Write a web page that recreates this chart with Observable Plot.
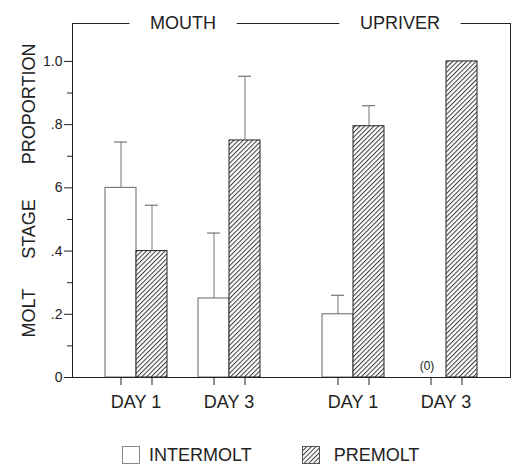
<!DOCTYPE html>
<html>
<head>
<meta charset="utf-8">
<script src="https://cdn.jsdelivr.net/npm/d3@7"></script>
<script src="https://cdn.jsdelivr.net/npm/@observablehq/plot@0.6"></script>
<style>
  html, body { margin: 0; padding: 0; background: white; }
  body { width: 514px; height: 466px; position: relative; overflow: hidden;
         font-family: "Liberation Sans", Arial, sans-serif; color: #222; }
  #chart svg { display: block; }
  #legend { position: absolute; top: 444px; left: 0; height: 22px; display: flex; align-items: center;
            padding-left: 122px; font-size: 18px; color: #222; }
  #legend .item { display: flex; align-items: center; }
  #legend svg { display: block; }
</style>
</head>
<body>
<div id="chart"></div>
<div id="legend"></div>
<script>
// ---- data ----
const sites = ["MOUTH", "UPRIVER"];
const days = ["DAY 1", "DAY 3"];
const stages = ["INTERMOLT", "PREMOLT"];
// order: MOUTH DAY 1, MOUTH DAY 3, UPRIVER DAY 1, UPRIVER DAY 3
const intermoltValues = [0.60, 0.25, 0.20, 0.00];
const intermoltUpper  = [0.745, 0.457, 0.26, null];
const premoltValues   = [0.40, 0.75, 0.795, 1.00];
const premoltUpper    = [0.545, 0.953, 0.86, null];
const yTicks = [0, 0.2, 0.4, 0.6, 0.8, 1.0];
const yTickLabels = ["0", ".2", ".4", "6", ".8", "1.0"];
const yMinorTicks = [0.1, 0.3, 0.5, 0.7, 0.9];
const yTitle = ["MOLT", "STAGE", "PROPORTION"];

// ---- build table ----
const key = (s, d, st) => `${s} ${d} ${st}`;
const rows = [];
sites.forEach((s, si) => days.forEach((d, di) => {
  const g = si * 2 + di;
  rows.push({site: s, day: d, stage: stages[0], key: key(s, d, stages[0]), value: intermoltValues[g], upper: intermoltUpper[g]});
  rows.push({site: s, day: d, stage: stages[1], key: key(s, d, stages[1]), value: premoltValues[g], upper: premoltUpper[g]});
}));
const barKeys = rows.map(r => r.key);
// band domain: bars with spacer bands (site name sits on the spacer between its two days)
const xDomain = sites.flatMap((s, si) => [
  ...(si > 0 ? ["\u2009", "\u200a"] : []),
  key(s, days[0], stages[0]), key(s, days[0], stages[1]),
  s,
  key(s, days[1], stages[0]), key(s, days[1], stages[1])
]);
const dayLabels = sites.flatMap(s => days.map(d => ({site: s, day: d, key: key(s, d, stages[0])})));
const errRows = rows.filter(r => r.upper != null);
const zeroRows = rows.filter(r => r.value === 0);
const tickLabel = new Map(yTicks.map((t, i) => [t, yTickLabels[i]]));
const nb = n => "\u00a0".repeat(n);
const yTitleText = yTitle[0] + nb(6) + yTitle[1] + nb(7) + yTitle[2];

const ink = "#222";
const defs = () => {
  const g = d3.create("svg:defs");
  g.html(`<pattern id="hatch" patternUnits="userSpaceOnUse" width="3.3" height="3.3" patternTransform="rotate(45)">
      <rect width="3.3" height="3.3" fill="white"/>
      <line x1="0.5" y1="0" x2="0.5" y2="3.3" stroke="#3a3a3a" stroke-width="1"/>
    </pattern>`);
  return g.node();
};

const chart = Plot.plot({
  width: 514,
  height: 436,
  marginLeft: 72,
  marginRight: 4,
  marginTop: 23,
  marginBottom: 59,
  style: {fontFamily: "'Liberation Sans', Arial, sans-serif", fontSize: "14px", color: ink, background: "white"},
  x: {type: "band", domain: xDomain, padding: 0, paddingOuter: 0.9, axis: null},
  y: {domain: [0, 1.12], axis: null},
  marks: [
    defs,
    Plot.barY(rows.filter(r => r.stage === stages[0]), {x: "key", y: "value", fill: "white", stroke: "#666", strokeWidth: 1}),
    Plot.barY(rows.filter(r => r.stage === stages[1]), {x: "key", y: "value", fill: "url(#hatch)", stroke: ink, strokeWidth: 1}),
    Plot.ruleX(errRows, {x: "key", y1: "value", y2: "upper", stroke: "#777", strokeWidth: 1}),
    Plot.tickY(errRows, {x: "key", y: "upper", inset: 9, stroke: "#777", strokeWidth: 1.2}),
    Plot.text(zeroRows, {x: "key", y: "value", text: () => "(0)", dy: -11, dx: -4, fontSize: 12, fill: ink}),
    Plot.frame({stroke: ink, strokeWidth: 1}),
    Plot.axisY({ticks: yTicks, tickFormat: d => tickLabel.get(d), tickSize: 8, tickPadding: 2, fontSize: 14, label: null, stroke: ink, fill: ink}),
    Plot.axisY({ticks: yMinorTicks, tickFormat: () => "", tickSize: 5, label: null, stroke: ink}),
    Plot.axisX({ticks: barKeys, tickFormat: () => "", tickSize: 8, label: null, stroke: ink}),
    Plot.text(sites, {x: d => d, text: d => d, frameAnchor: "top", lineAnchor: "middle", fontSize: 18, fill: ink, stroke: "white", strokeWidth: 44}),
    Plot.text(dayLabels, {x: "key", text: "day", frameAnchor: "bottom", lineAnchor: "middle", dy: 25, dx: 15, fontSize: 18, fill: ink}),
    Plot.text([yTitleText], {text: d => d, frameAnchor: "left", textAnchor: "middle", lineAnchor: "middle", rotate: -90, dx: -43, dy: -10, fontSize: 18, fill: ink})
  ]
});
document.getElementById("chart").appendChild(chart);

// ---- legend ----
const legend = d3.select("#legend");
stages.forEach((st, i) => {
  const item = legend.append("div").attr("class", "item").style("margin-left", i === 0 ? "0px" : "50px");
  const sw = item.append("svg").attr("width", 18).attr("height", 18);
  if (i === 1) {
    sw.append("defs").html(`<pattern id="hatchL" patternUnits="userSpaceOnUse" width="3.3" height="3.3" patternTransform="rotate(45)">
      <rect width="3.3" height="3.3" fill="white"/>
      <line x1="0.5" y1="0" x2="0.5" y2="3.3" stroke="#3a3a3a" stroke-width="1"/></pattern>`);
  }
  sw.append("rect").attr("x", 0.5).attr("y", 0.5).attr("width", 17).attr("height", 17)
    .attr("fill", i === 1 ? "url(#hatchL)" : "white").attr("stroke", i === 1 ? "#555" : "#888");
  item.append("span").style("margin-left", i === 0 ? "9px" : "14px").text(st);
});
</script>
</body>
</html>
